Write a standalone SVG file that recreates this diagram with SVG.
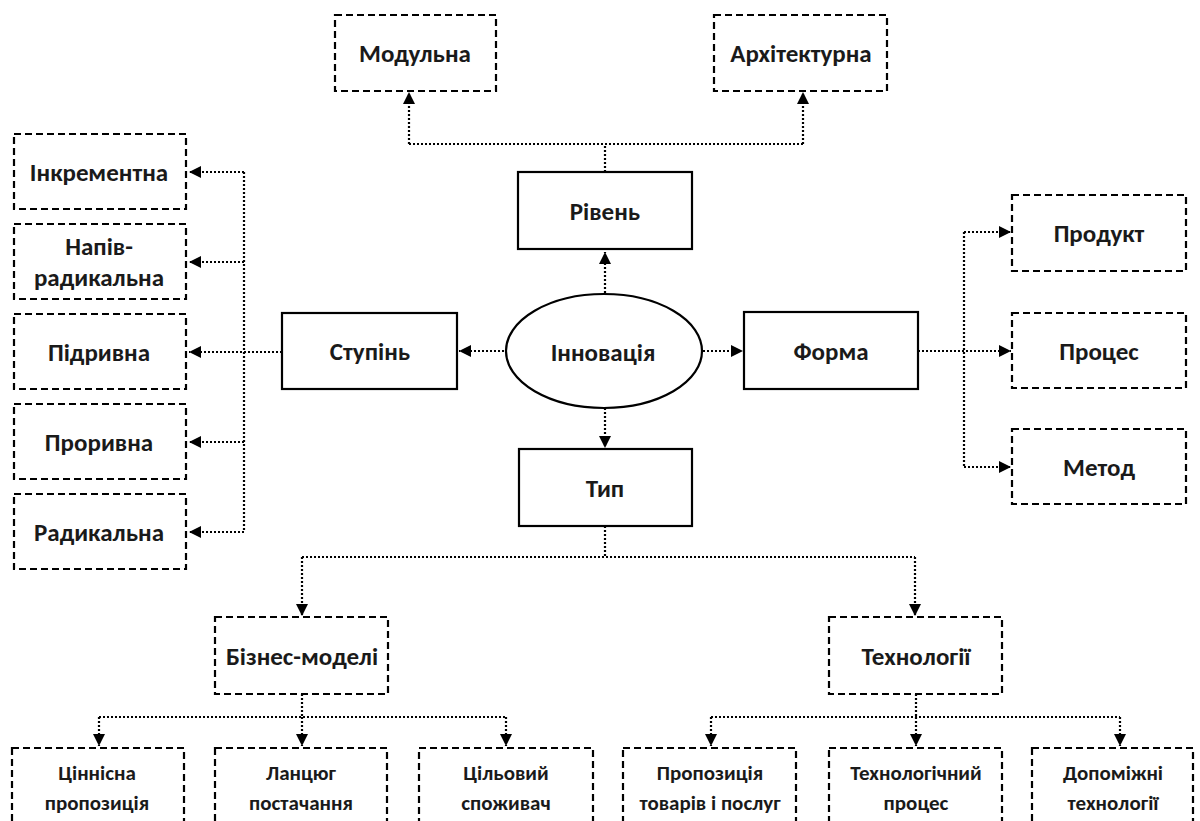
<svg xmlns="http://www.w3.org/2000/svg" width="1200" height="821" viewBox="0 0 1200 821">
  <defs>
    <marker id="arrow" markerUnits="userSpaceOnUse" markerWidth="12" markerHeight="12" viewBox="0 0 12 12" refX="12" refY="6" orient="auto">
      <path d="M0,0 L12,6 L0,12 z" fill="#000"/>
    </marker>
    <style>
      .solid { fill: #fff; stroke: #000; stroke-width: 2.2; }
      .dash { fill: #fff; stroke: #000; stroke-width: 2.2; stroke-dasharray: 7 4; }
      .link { fill: none; stroke: #000; stroke-width: 2.2; stroke-dasharray: 2 2; }
      .arr { marker-end: url(#arrow); }
      text { font-family: Carlito, "Open Sans", "Liberation Sans", sans-serif; font-weight: bold; fill: #1a1a1a; text-anchor: middle; dominant-baseline: central; }
      .lg { font-size: 25px; }
      .md { font-size: 25px; }
      .sm { font-size: 21px; }
    </style>
  </defs>
  <rect width="1200" height="821" fill="#fff"/>

  <!-- connectors -->
  <g id="connectors">
    <!-- level branch -->
    <path class="link arr" d="M605,293 V252"/>
    <path class="link" d="M605,172 V144 M409,144 H803"/>
    <path class="link arr" d="M409,144 V92"/>
    <path class="link arr" d="M803,144 V92"/>
    <!-- degree branch -->
    <path class="link arr" d="M504,351 H459"/>
    <path class="link arr" d="M282,352 H189"/>
    <path class="link" d="M244,172 V532"/>
    <path class="link arr" d="M244,172 H189"/>
    <path class="link arr" d="M244,262 H189"/>
    <path class="link arr" d="M244,442 H189"/>
    <path class="link arr" d="M244,532 H189"/>
    <!-- form branch -->
    <path class="link arr" d="M703,351 H743"/>
    <path class="link arr" d="M918,351 H1011"/>
    <path class="link" d="M964,232 V467"/>
    <path class="link arr" d="M964,232 H1011"/>
    <path class="link arr" d="M964,467 H1011"/>
    <!-- type branch -->
    <path class="link arr" d="M605,408 V448"/>
    <path class="link" d="M605,526 V557 M302,557 H915"/>
    <path class="link arr" d="M302,557 V616"/>
    <path class="link arr" d="M915,557 V616"/>
    <!-- business models -->
    <path class="link" d="M302,694 V717 M99,717 H506"/>
    <path class="link arr" d="M99,717 V746"/>
    <path class="link arr" d="M302,717 V746"/>
    <path class="link arr" d="M506,717 V746"/>
    <!-- technologies -->
    <path class="link" d="M916,694 V717 M711,717 H1120"/>
    <path class="link arr" d="M711,717 V746"/>
    <path class="link arr" d="M916,717 V746"/>
    <path class="link arr" d="M1120,717 V746"/>
  </g>

  <!-- centre -->
  <g id="innovation">
    <ellipse class="solid" cx="604" cy="351" rx="98" ry="57"/>
    <text class="lg" x="603" y="352">Інновація</text>
  </g>

  <!-- first-level categories -->
  <g id="level">
    <rect class="solid" x="518" y="172" width="174" height="77"/>
    <text class="md" x="605" y="211">Рівень</text>
  </g>
  <g id="degree">
    <rect class="solid" x="282" y="313" width="175" height="76"/>
    <text class="md" x="370" y="351">Ступінь</text>
  </g>
  <g id="form">
    <rect class="solid" x="744" y="312" width="174" height="77"/>
    <text class="md" x="831" y="351">Форма</text>
  </g>
  <g id="type">
    <rect class="solid" x="519" y="449" width="173" height="77"/>
    <text class="md" x="605" y="488">Тип</text>
  </g>

  <!-- level subtypes -->
  <g id="modular">
    <rect class="dash" x="335" y="15" width="161" height="76"/>
    <text class="md" x="415" y="53">Модульна</text>
  </g>
  <g id="architectural">
    <rect class="dash" x="714" y="15" width="173" height="76"/>
    <text class="md" x="801" y="53">Архітектурна</text>
  </g>

  <!-- degree subtypes -->
  <g id="incremental">
    <rect class="dash" x="14" y="134" width="172" height="75"/>
    <text class="md" x="99" y="172">Інкрементна</text>
  </g>
  <g id="semi-radical">
    <rect class="dash" x="14" y="224" width="172" height="75"/>
    <text class="md" x="99" y="246">Напів-</text>
    <text class="md" x="99" y="277">радикальна</text>
  </g>
  <g id="disruptive">
    <rect class="dash" x="14" y="314" width="172" height="75"/>
    <text class="md" x="99" y="352">Підривна</text>
  </g>
  <g id="breakthrough">
    <rect class="dash" x="14" y="404" width="172" height="75"/>
    <text class="md" x="99" y="442">Проривна</text>
  </g>
  <g id="radical">
    <rect class="dash" x="14" y="494" width="172" height="75"/>
    <text class="md" x="99" y="532">Радикальна</text>
  </g>

  <!-- form subtypes -->
  <g id="product">
    <rect class="dash" x="1012" y="195" width="174" height="76"/>
    <text class="md" x="1099" y="233">Продукт</text>
  </g>
  <g id="process">
    <rect class="dash" x="1012" y="313" width="174" height="75"/>
    <text class="md" x="1099" y="351">Процес</text>
  </g>
  <g id="method">
    <rect class="dash" x="1012" y="429" width="174" height="75"/>
    <text class="md" x="1099" y="467">Метод</text>
  </g>

  <!-- type subtypes -->
  <g id="business-models">
    <rect class="dash" x="215" y="617" width="173" height="77"/>
    <text class="md" x="302" y="656">Бізнес-моделі</text>
  </g>
  <g id="technologies">
    <rect class="dash" x="829" y="617" width="173" height="77"/>
    <text class="md" x="916" y="656">Технології</text>
  </g>

  <!-- business model components -->
  <g id="value-proposition">
    <rect class="dash" x="12" y="748" width="172" height="90"/>
    <text class="sm" x="97" y="773">Ціннісна</text>
    <text class="sm" x="97" y="803">пропозиція</text>
  </g>
  <g id="supply-chain">
    <rect class="dash" x="215" y="748" width="172" height="90"/>
    <text class="sm" x="301" y="773">Ланцюг</text>
    <text class="sm" x="301" y="803">постачання</text>
  </g>
  <g id="target-customer">
    <rect class="dash" x="419" y="748" width="174" height="90"/>
    <text class="sm" x="506" y="773">Цільовий</text>
    <text class="sm" x="506" y="803">споживач</text>
  </g>

  <!-- technology components -->
  <g id="offering">
    <rect class="dash" x="623" y="748" width="173" height="90"/>
    <text class="sm" x="710" y="773">Пропозиція</text>
    <text class="sm" x="710" y="803">товарів і послуг</text>
  </g>
  <g id="tech-process">
    <rect class="dash" x="829" y="748" width="173" height="90"/>
    <text class="sm" x="916" y="773">Технологічний</text>
    <text class="sm" x="916" y="803">процес</text>
  </g>
  <g id="supporting-tech">
    <rect class="dash" x="1032" y="748" width="161" height="90"/>
    <text class="sm" x="1113" y="773">Допоміжні</text>
    <text class="sm" x="1113" y="803">технології</text>
  </g>
</svg>
